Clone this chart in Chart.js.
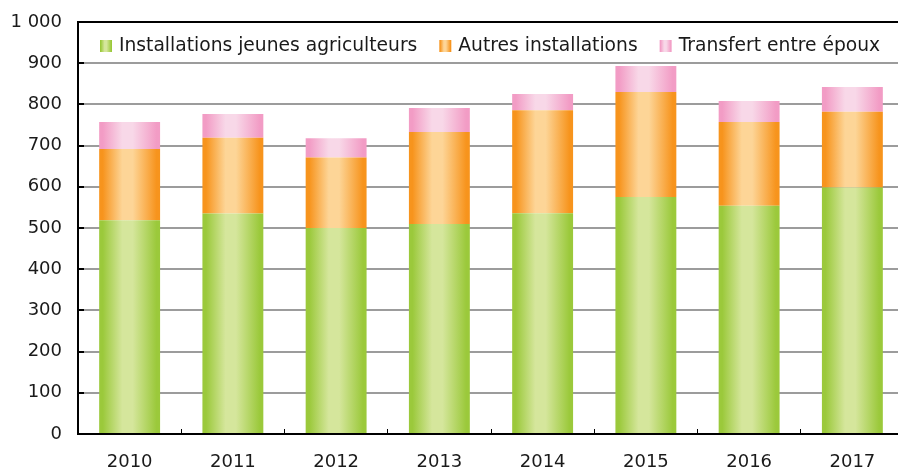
<!DOCTYPE html>
<html lang="fr">
<head>
<meta charset="utf-8">
<title>Installations</title>
<script src="https://cdn.jsdelivr.net/npm/chart.js@4/dist/chart.umd.min.js"></script>
<style>
  html, body { margin: 0; padding: 0; background: #fff; }
  #wrap { width: 898px; height: 471px; overflow: hidden; }
  canvas { display: block; }
</style>
</head>
<body>
<div id="wrap"><canvas id="chart" width="906" height="471"></canvas></div>
<script>
const years = ['2010', '2011', '2012', '2013', '2014', '2015', '2016', '2017'];
const jeunes = [519, 535, 500, 510, 536, 575, 554, 598];
const autres = [173, 184, 171, 223, 250, 255, 203, 184];
const epoux = [65, 58, 47, 58, 39, 63, 51, 60];
const seriesNames = ['Installations jeunes agriculteurs', 'Autres installations', 'Transfert entre époux'];

// couleur du bord, couleur du centre
const palette = [
  ['#9bc93b', '#d5e69c'],
  ['#f7941d', '#fdd597'],
  ['#f29cc5', '#f8d8e8']
];
const BAR_PCT = 0.59;

function shade(ctx, x0, w, pair) {
  const g = ctx.createLinearGradient(x0, 0, x0 + w, 0);
  g.addColorStop(0, pair[0]);
  g.addColorStop(0.06, pair[0]);
  g.addColorStop(0.38, pair[1]);
  g.addColorStop(0.55, pair[1]);
  g.addColorStop(0.94, pair[0]);
  g.addColorStop(1, pair[0]);
  return g;
}

function barFill(c) {
  const chart = c.chart;
  const x = chart.scales.x;
  if (!chart.chartArea || c.dataIndex === undefined) return palette[c.datasetIndex][0];
  const w = (chart.chartArea.right - chart.chartArea.left) / years.length * BAR_PCT;
  const cx = x.getPixelForValue(c.dataIndex);
  return shade(chart.ctx, cx - w / 2, w, palette[c.datasetIndex]);
}

const insideLegend = {
  id: 'insideLegend',
  afterDraw(chart) {
    const ctx = chart.ctx;
    const area = chart.chartArea;
    ctx.save();
    ctx.font = '18.7px "DejaVu Sans"';
    ctx.textBaseline = 'middle';
    let x = area.left + 22;
    const y = area.top + 24;
    chart.data.datasets.forEach((ds, i) => {
      ctx.fillStyle = shade(ctx, x, 12, palette[i]);
      ctx.fillRect(x, y - 6, 12, 12);
      ctx.fillStyle = '#1a1a1a';
      ctx.fillText(ds.label, x + 19, y);
      x += 19 + ctx.measureText(ds.label).width + 22;
    });
    ctx.restore();
  }
};

Chart.defaults.font.family = '"DejaVu Sans", sans-serif';
Chart.defaults.font.size = 18;
Chart.defaults.color = '#1a1a1a';

new Chart(document.getElementById('chart').getContext('2d'), {
  type: 'bar',
  data: {
    labels: years,
    datasets: [jeunes, autres, epoux].map((vals, i) => ({
      label: seriesNames[i],
      data: vals,
      backgroundColor: barFill,
      borderWidth: 0,
      barPercentage: BAR_PCT,
      categoryPercentage: 1
    }))
  },
  options: {
    responsive: false,
    animation: false,
    devicePixelRatio: 1,
    layout: { padding: { top: 22, right: 2, left: 0, bottom: 0 } },
    plugins: { legend: { display: false }, tooltip: { enabled: false } },
    scales: {
      x: {
        stacked: true,
        afterFit: (s) => { s.height = 37; },
        grid: {
          drawOnChartArea: false,
          tickLength: -5,
          tickColor: '#000',
          tickWidth: 1
        },
        border: { color: '#000', width: 2 },
        ticks: { padding: 23, color: '#1a1a1a' }
      },
      y: {
        stacked: true,
        min: 0,
        max: 1000,
        afterFit: (s) => { s.width = 78; s.paddingTop = 0; s.paddingBottom = 0; },
        grid: {
          color: (c) => (c.tick && c.tick.value === 1000 ? '#000' : '#9c9c9c'),
          lineWidth: 2,
          tickLength: -6,
          tickColor: '#000',
          tickWidth: 2
        },
        border: { color: '#000', width: 2 },
        ticks: {
          stepSize: 100,
          padding: 22,
          color: '#1a1a1a',
          callback: (v) => String(v).replace(/\B(?=(\d{3})+(?!\d))/g, ' ')
        }
      }
    }
  },
  plugins: [insideLegend]
});
</script>
</body>
</html>
